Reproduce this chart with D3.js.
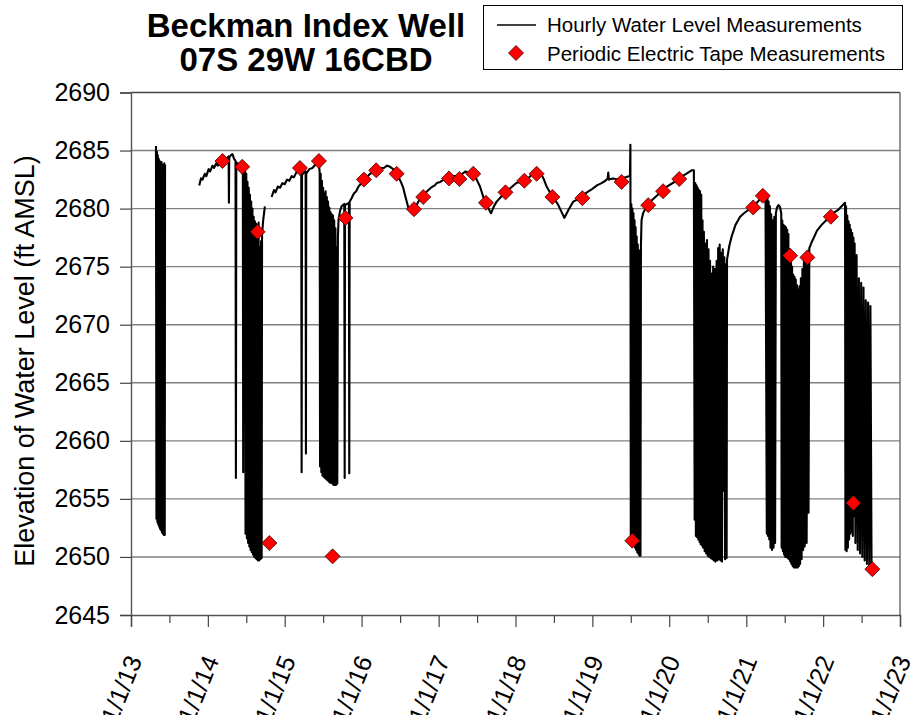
<!DOCTYPE html>
<html><head><meta charset="utf-8">
<script src="https://cdn.jsdelivr.net/npm/d3@7/dist/d3.min.js"></script>
<style>
html,body{margin:0;padding:0;background:#fff;}
svg text{font-family:"Liberation Sans",Arial,sans-serif;fill:#000;}
</style></head>
<body><svg id="chart" width="917" height="715"></svg>
<script>
// ---------- DATA (decimal year, elevation ft AMSL) ----------
const titleLines = ["Beckman Index Well", "07S 29W 16CBD"];
const yTicks = [2645, 2650, 2655, 2660, 2665, 2670, 2675, 2680, 2685, 2690];
const xTickYears = [2013, 2014, 2015, 2016, 2017, 2018, 2019, 2020, 2021, 2022, 2023];
const xTickLabels = ["1/1/13","1/1/14","1/1/15","1/1/16","1/1/17","1/1/18","1/1/19","1/1/20","1/1/21","1/1/22","1/1/23"];
const legendLabels = ["Hourly Water Level Measurements", "Periodic Electric Tape Measurements"];

// Hourly transducer record, segment 1 (2013)
const hourly2013 = [
[2013.325,2685.4],[2013.331,2653.3],[2013.337,2684.9],[2013.343,2653.0],[2013.349,2684.6],[2013.355,2652.8],
[2013.361,2684.3],[2013.367,2652.6],[2013.373,2684.1],[2013.379,2652.4],[2013.385,2683.9],[2013.391,2652.3],
[2013.397,2684.0],[2013.403,2652.1],[2013.409,2683.8],[2013.415,2652.0],[2013.421,2683.7],[2013.427,2651.9],
[2013.433,2683.9],[2013.439,2651.9],[2013.443,2683.8]
];
// segment 2 (late 2013 - 2014)
const hourly2014 = [
[2013.888,2682.0],[2013.91,2682.6],[2013.93,2682.5],[2013.96,2683.0],[2013.98,2682.8],[2014.01,2683.4],[2014.03,2683.2],
[2014.06,2683.7],[2014.08,2683.5],[2014.11,2683.9],[2014.13,2683.7],[2014.16,2684.2],[2014.19,2684.0],[2014.22,2684.4],
[2014.25,2684.3],[2014.27,2684.5],[2014.274,2680.5],[2014.278,2684.4],[2014.30,2684.6],[2014.32,2684.7],[2014.34,2684.3],
[2014.36,2684.1],[2014.365,2656.8],[2014.370,2684.0],[2014.40,2683.8],[2014.43,2683.6],[2014.455,2683.4],[2014.46,2657.3],
[2014.465,2683.3],[2014.485,2683.2],
[2014.49,2652.0],[2014.50,2683.0],[2014.508,2651.6],[2014.516,2682.3],[2014.524,2651.2],[2014.532,2681.8],[2014.54,2650.9],
[2014.548,2681.2],[2014.556,2650.6],[2014.564,2680.6],[2014.572,2650.4],[2014.58,2680.0],[2014.588,2650.2],[2014.596,2679.3],
[2014.604,2650.0],[2014.612,2678.9],[2014.62,2649.9],[2014.628,2678.7],[2014.636,2649.8],[2014.644,2678.5],[2014.652,2649.7],
[2014.66,2678.8],[2014.668,2649.7],[2014.676,2676.7],[2014.684,2649.8],[2014.692,2677.2],[2014.70,2649.9],[2014.705,2677.8],
[2014.72,2679.0],[2014.742,2680.2]
];
// segment 3 (late 2014 - 2022)
const hourly2015to2022 = [
[2014.83,2681.0],[2014.86,2681.6],[2014.88,2681.4],[2014.91,2681.9],[2014.94,2681.8],[2014.97,2682.2],[2015.00,2682.1],
[2015.03,2682.5],[2015.06,2682.4],[2015.09,2682.8],[2015.12,2682.7],[2015.15,2683.1],[2015.19,2683.3],[2015.215,2683.2],
[2015.22,2657.3],[2015.225,2682.9],[2015.25,2683.1],[2015.272,2683.2],[2015.276,2658.9],[2015.28,2683.0],[2015.32,2683.4],
[2015.36,2683.5],[2015.40,2683.8],[2015.445,2683.9],[2015.455,2683.1],
[2015.46,2657.8],[2015.468,2683.0],[2015.476,2657.3],[2015.484,2682.4],[2015.492,2657.0],[2015.50,2681.8],[2015.508,2656.9],
[2015.516,2681.3],[2015.524,2656.8],[2015.532,2681.5],[2015.54,2656.7],[2015.548,2681.0],[2015.556,2656.6],[2015.564,2680.6],
[2015.572,2656.5],[2015.58,2680.1],[2015.588,2656.4],[2015.596,2679.7],[2015.604,2656.4],[2015.612,2679.5],[2015.62,2656.3],
[2015.628,2679.4],[2015.636,2656.2],[2015.644,2679.0],[2015.652,2656.2],[2015.66,2678.3],[2015.668,2656.2],[2015.676,2676.7],
[2015.684,2656.3],[2015.692,2677.5],
[2015.70,2679.0],[2015.72,2679.8],[2015.74,2680.2],[2015.775,2680.4],[2015.78,2656.8],[2015.785,2680.3],[2015.81,2680.4],
[2015.835,2680.5],[2015.84,2657.2],[2015.845,2680.6],[2015.87,2680.9],[2015.90,2681.3],[2015.93,2681.5],[2015.96,2681.9],
[2016.00,2682.2],[2016.03,2682.5],[2016.07,2682.7],[2016.11,2683.0],[2016.15,2683.1],[2016.19,2683.3],[2016.24,2683.5],
[2016.29,2683.5],[2016.33,2683.7],[2016.37,2683.6],[2016.41,2683.4],[2016.455,2683.1],[2016.48,2682.7],[2016.51,2682.3],
[2016.54,2681.8],[2016.57,2681.0],[2016.606,2680.1],[2016.64,2679.8],[2016.671,2679.6],[2016.70,2680.1],[2016.736,2680.6],
[2016.77,2680.9],[2016.80,2681.1],[2016.85,2681.5],[2016.90,2681.8],[2016.95,2682.0],[2016.975,2682.2],[2017.02,2682.3],
[2017.07,2682.5],[2017.135,2682.6],[2017.20,2682.8],[2017.27,2682.8],[2017.31,2683.0],[2017.35,2683.2],[2017.408,2683.0],
[2017.45,2683.0],[2017.495,2682.5],[2017.538,2681.9],[2017.581,2681.0],[2017.625,2680.3],[2017.681,2679.6],[2017.72,2680.2],
[2017.755,2680.6],[2017.81,2681.0],[2017.87,2681.4],[2017.94,2681.8],[2018.01,2682.2],[2018.06,2682.3],[2018.115,2682.5],
[2018.16,2682.6],[2018.21,2682.9],[2018.275,2683.1],[2018.34,2682.9],[2018.37,2682.5],[2018.405,2681.9],[2018.44,2681.5],
[2018.48,2681.0],[2018.52,2680.7],[2018.557,2680.3],[2018.60,2679.7],[2018.635,2679.2],[2018.69,2679.9],[2018.75,2680.6],
[2018.81,2680.8],[2018.87,2681.1],[2018.93,2681.4],[2019.00,2681.7],[2019.06,2682.0],[2019.12,2682.2],[2019.17,2682.4],
[2019.20,2682.6],[2019.207,2683.1],[2019.215,2682.5],[2019.27,2682.6],[2019.33,2682.5],[2019.38,2682.5],[2019.43,2682.7],
[2019.489,2682.8],[2019.495,2685.5],
[2019.50,2651.5],[2019.507,2680.4],[2019.514,2651.4],[2019.521,2680.0],[2019.528,2651.2],[2019.535,2679.6],[2019.542,2651.0],
[2019.549,2679.0],[2019.556,2650.8],[2019.563,2678.4],[2019.57,2650.6],[2019.577,2677.6],[2019.584,2650.4],[2019.591,2676.9],
[2019.598,2650.3],[2019.605,2676.4],[2019.612,2650.1],[2019.619,2675.8],[2019.626,2650.1],[2019.632,2676.8],
[2019.64,2679.0],[2019.66,2679.6],[2019.69,2680.0],[2019.727,2680.3],[2019.77,2680.7],[2019.82,2681.0],[2019.87,2681.3],
[2019.922,2681.5],[2019.97,2681.9],[2020.02,2682.1],[2020.07,2682.3],[2020.117,2682.5],[2020.17,2682.8],[2020.22,2683.0],
[2020.29,2683.3],[2020.32,2683.3],
[2020.33,2653.2],[2020.338,2682.2],[2020.346,2651.8],[2020.354,2682.0],[2020.362,2651.7],[2020.37,2681.8],[2020.378,2651.5],
[2020.386,2681.6],[2020.394,2651.3],[2020.40,2681.5],[2020.408,2651.1],[2020.416,2681.2],[2020.424,2651.0],[2020.432,2679.0],
[2020.44,2650.8],[2020.45,2678.0],[2020.46,2650.5],[2020.47,2677.0],[2020.48,2650.3],[2020.49,2677.3],[2020.50,2650.1],
[2020.51,2676.5],[2020.52,2650.0],[2020.53,2675.5],[2020.54,2649.9],[2020.55,2674.4],[2020.56,2649.8],[2020.57,2675.0],
[2020.58,2649.7],[2020.59,2674.8],[2020.60,2649.6],[2020.615,2675.5],[2020.625,2649.7],[2020.635,2676.6],[2020.645,2649.8],
[2020.655,2676.9],[2020.665,2649.7],[2020.675,2676.2],[2020.685,2649.6],[2020.695,2676.5],[2020.705,2655.7],[2020.715,2675.8],
[2020.725,2649.8],[2020.735,2675.2],[2020.745,2649.9],
[2020.75,2675.6],[2020.78,2676.8],[2020.81,2677.6],[2020.86,2678.6],[2020.92,2679.3],[2020.97,2679.6],[2021.03,2679.9],
[2021.09,2680.2],[2021.15,2680.6],[2021.215,2681.1],[2021.25,2681.2],
[2021.267,2652.0],[2021.275,2681.0],[2021.283,2651.8],[2021.291,2680.6],[2021.299,2651.5],[2021.307,2680.2],[2021.315,2650.8],
[2021.325,2679.5],[2021.335,2650.6],[2021.345,2679.0],[2021.355,2650.8],[2021.365,2679.3],[2021.375,2651.2],[2021.385,2679.6],
[2021.40,2680.1],[2021.42,2680.3],[2021.44,2680.1],[2021.455,2679.6],[2021.46,2650.8],
[2021.468,2679.0],[2021.476,2650.5],[2021.484,2678.6],[2021.492,2650.2],[2021.50,2678.5],[2021.508,2650.0],[2021.516,2678.4],
[2021.524,2650.0],[2021.532,2678.2],[2021.54,2649.9],[2021.548,2677.8],[2021.556,2649.8],[2021.564,2676.5],[2021.572,2649.6],
[2021.58,2675.9],[2021.588,2649.4],[2021.596,2675.0],[2021.604,2649.2],[2021.612,2674.3],[2021.62,2649.1],[2021.628,2674.1],
[2021.636,2649.1],[2021.644,2673.9],[2021.652,2649.1],[2021.66,2673.4],[2021.668,2649.1],[2021.676,2673.0],[2021.684,2649.2],
[2021.692,2673.3],[2021.70,2649.4],[2021.71,2674.0],[2021.72,2649.8],[2021.73,2674.8],[2021.74,2650.6],[2021.75,2675.6],
[2021.76,2650.9],[2021.775,2676.0],[2021.785,2651.2],[2021.80,2676.3],[2021.81,2653.8],[2021.82,2676.6],
[2021.85,2677.1],[2021.872,2677.4],[2021.92,2678.1],[2021.98,2678.6],[2022.04,2679.0],[2022.10,2679.4],[2022.15,2679.7],
[2022.197,2679.9],[2022.24,2680.2],[2022.285,2680.5],
[2022.29,2650.6],[2022.298,2680.2],[2022.306,2650.5],[2022.314,2679.4],[2022.322,2650.8],[2022.33,2678.9],[2022.338,2651.5],
[2022.346,2678.6],[2022.354,2652.0],[2022.362,2678.2],[2022.37,2652.2],[2022.378,2677.9],[2022.386,2651.8],[2022.394,2677.5],
[2022.402,2653.5],[2022.41,2677.0],[2022.42,2651.2],[2022.435,2676.0],[2022.45,2650.6],[2022.465,2674.0],[2022.48,2650.3],
[2022.495,2673.6],[2022.51,2650.0],[2022.525,2673.2],[2022.54,2649.7],[2022.555,2672.1],[2022.57,2649.4],[2022.585,2671.9],
[2022.60,2649.2],[2022.615,2671.6],[2022.63,2648.9],[2022.64,2648.9]
];

// Periodic electric tape measurements
const tapeDates = [2014.19,2014.447,2014.647,2014.80,2015.198,2015.445,2015.623,2015.79,2016.03,2016.19,2016.455,
  2016.68,2016.80,2017.135,2017.27,2017.45,2017.616,2017.87,2018.115,2018.275,2018.48,2018.87,2019.38,2019.52,
  2019.727,2019.92,2020.13,2021.09,2021.215,2021.57,2021.795,2022.10,2022.393,2022.64];
const tapeValues = [2684.1,2683.6,2678.0,2651.2,2683.5,2684.1,2650.05,2679.2,2682.5,2683.3,2683.0,
  2679.95,2681.0,2682.6,2682.55,2683.0,2680.5,2681.4,2682.4,2683.0,2681.0,2680.9,2682.3,2651.4,
  2680.3,2681.5,2682.55,2680.1,2681.1,2675.95,2675.8,2679.3,2654.65,2648.95];

// ---------- helpers ----------
function yearToDate(y){
  const yr = Math.floor(y);
  const a = new Date(yr,0,1).getTime(), b = new Date(yr+1,0,1).getTime();
  return new Date(a + (y-yr)*(b-a));
}

// ---------- layout ----------
const svg = d3.select("#chart");
const L = 131, R = 900, T = 92.5, B = 615;
const x = d3.scaleTime().domain([new Date(2013,0,1), new Date(2023,0,1)]).range([L, R]);
const y = d3.scaleLinear().domain([2645, 2690]).range([B, T]);
const FONT = '"Liberation Sans",Arial,sans-serif';

// gridlines
svg.append("g").selectAll("line").data(yTicks.filter(v => v > 2645 && v < 2690)).join("line")
  .attr("x1", L).attr("x2", R).attr("y1", d => y(d)).attr("y2", d => y(d))
  .attr("stroke", "#808080").attr("stroke-width", 1.4);

// frame top & right
svg.append("line").attr("x1", L).attr("x2", R).attr("y1", y(2690)).attr("y2", y(2690)).attr("stroke", "#444").attr("stroke-width", 1.4);
svg.append("line").attr("x1", R).attr("x2", R).attr("y1", T).attr("y2", B).attr("stroke", "#666").attr("stroke-width", 1.4);

// y axis
const yAxis = d3.axisLeft(y).tickValues(yTicks).tickSize(11).tickPadding(10).tickFormat(d3.format("d"));
const gy = svg.append("g").attr("transform", `translate(${L},0)`).call(yAxis);
gy.select(".domain").attr("stroke", "#555").attr("stroke-width", 1.4);
gy.selectAll(".tick line").attr("stroke", "#444").attr("stroke-width", 1.2);
gy.selectAll(".tick text").attr("font-family", FONT).attr("font-size", 25).attr("fill", "#000");

// x axis: major yearly ticks + minor half-year ticks
const xAxis = d3.axisBottom(x).tickValues(xTickYears.map(yearToDate)).tickSize(12).tickFormat((d,i) => xTickLabels[i]);
const gx = svg.append("g").attr("transform", `translate(0,${B})`).call(xAxis);
gx.select(".domain").attr("stroke", "#555").attr("stroke-width", 1.4);
gx.selectAll(".tick line").attr("stroke", "#444").attr("stroke-width", 1.2);
gx.selectAll(".tick text")
  .attr("font-family", FONT).attr("font-size", 25).attr("fill", "#000")
  .attr("text-anchor", "end").attr("dy", null).attr("y", 0)
  .attr("transform", "translate(11,45) rotate(-68)");
const minorAxis = d3.axisBottom(x).tickValues(xTickYears.slice(0,-1).map(v => yearToDate(v + 0.5))).tickSize(8).tickFormat("");
const gm = svg.append("g").attr("transform", `translate(0,${B})`).call(minorAxis);
gm.select(".domain").remove();
gm.selectAll(".tick line").attr("stroke", "#444").attr("stroke-width", 1.2);

// y axis title
svg.append("text").attr("transform", "translate(34,361) rotate(-90)")
  .attr("text-anchor", "middle").attr("font-size", 27).text("Elevation of Water Level (ft AMSL)");

// hourly line
const line = d3.line().x(d => x(yearToDate(d[0]))).y(d => y(d[1]));
[hourly2013, hourly2014, hourly2015to2022].forEach(seg => {
  svg.append("path").datum(seg).attr("d", line)
    .attr("fill", "none").attr("stroke", "#000").attr("stroke-width", 2.1).attr("stroke-linejoin", "round");
});

// tape diamonds
const diamond = "M0,-7.5L7.5,0L0,7.5L-7.5,0Z";
svg.append("g").selectAll("path").data(tapeDates.map((d,i) => [d, tapeValues[i]])).join("path")
  .attr("d", diamond)
  .attr("transform", d => `translate(${x(yearToDate(d[0]))},${y(d[1])})`)
  .attr("fill", "#ff0000").attr("stroke", "#400000").attr("stroke-width", 0.8);

// title
svg.append("text").attr("x", 306).attr("y", 37).attr("text-anchor", "middle")
  .attr("font-size", 33).attr("font-weight", "bold").text(titleLines[0]);
svg.append("text").attr("x", 306).attr("y", 71).attr("text-anchor", "middle")
  .attr("font-size", 33).attr("font-weight", "bold").text(titleLines[1]);

// legend
const lg = svg.append("g");
lg.append("rect").attr("x", 483.5).attr("y", 5.5).attr("width", 419).attr("height", 64)
  .attr("fill", "#fff").attr("stroke", "#000").attr("stroke-width", 1);
lg.append("line").attr("x1", 497).attr("x2", 536).attr("y1", 25).attr("y2", 25).attr("stroke", "#000").attr("stroke-width", 1.5);
lg.append("text").attr("x", 547).attr("y", 32).attr("font-size", 20.5).text(legendLabels[0]);
lg.append("path").attr("d", diamond).attr("transform", "translate(516,53)")
  .attr("fill", "#ff0000").attr("stroke", "#400000").attr("stroke-width", 0.8);
lg.append("text").attr("x", 547).attr("y", 61).attr("font-size", 20.5).text(legendLabels[1]);
</script></body></html>
